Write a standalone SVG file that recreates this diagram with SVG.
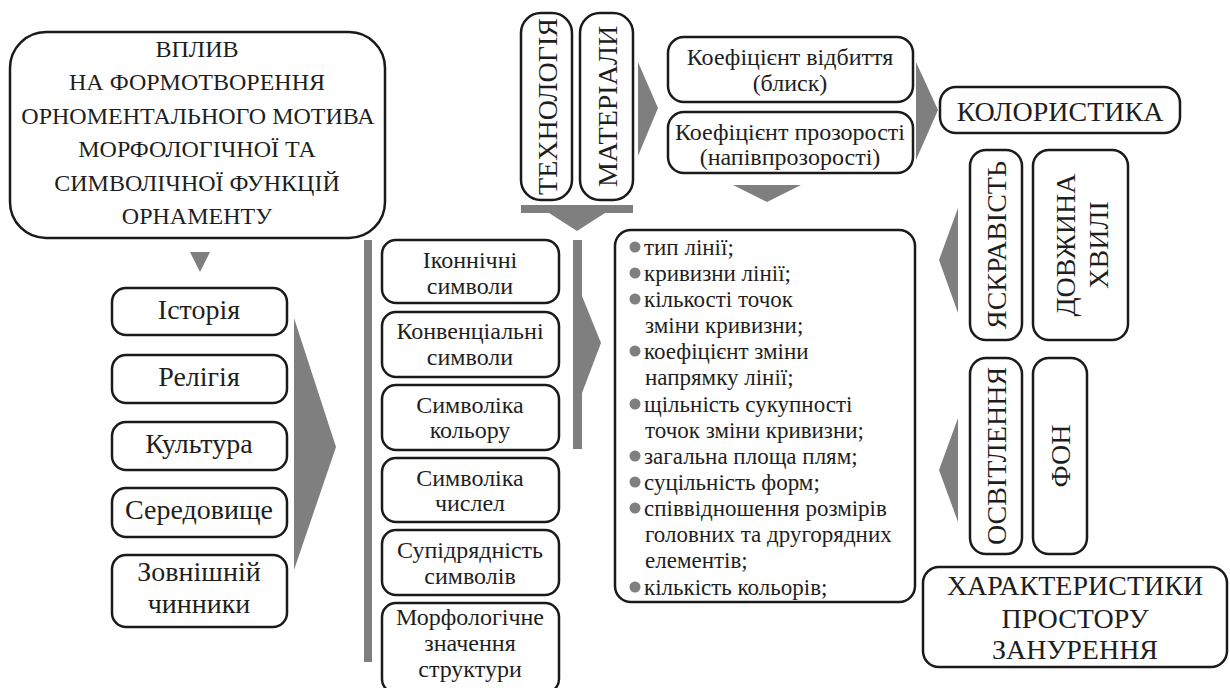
<svg xmlns="http://www.w3.org/2000/svg" width="1230" height="688" viewBox="0 0 1230 688" font-family="Liberation Serif, Times New Roman, serif">
<style>
.box{fill:#fff;stroke:#1a1a1a;stroke-width:2.5}
.g{fill:#7f7f7f}
.t{fill:#1e1e1e;text-anchor:middle}
.l{fill:#1e1e1e;font-size:23px}
</style>
<rect width="1230" height="688" fill="#ffffff"/>
<g id="connectors">
<polygon class="g" points="190,252 210,252 200,272"/>
<polygon class="g" points="294,318 336,447 294,570"/>
<rect class="g" x="364" y="240" width="8" height="422"/>
<rect class="g" x="573" y="240" width="9" height="209"/>
<polygon class="g" points="582,296 601,343 582,393"/>
<rect class="g" x="521" y="205" width="112" height="8"/>
<polygon class="g" points="549,213 605,213 577,231"/>
<polygon class="g" points="638,62 658,108 638,156"/>
<polygon class="g" points="733,185 801,185 767,202"/>
<polygon class="g" points="916,62 938,110 916,160"/>
<polygon class="g" points="958,208 939,260 958,313"/>
<polygon class="g" points="958,418 939,470 958,522"/>
</g>
<g id="main">
<rect class="box" x="10" y="32" width="375" height="206" rx="36"/>
<text class="t" font-family="Liberation Serif, serif" font-size="24" x="197" y="57">ВПЛИВ</text>
<text class="t" font-family="Liberation Serif, serif" font-size="24" x="197" y="90">НА ФОРМОТВОРЕННЯ</text>
<text class="t" font-family="Liberation Serif, serif" font-size="24" x="198" y="124">ОРНОМЕНТАЛЬНОГО МОТИВА</text>
<text class="t" font-family="Liberation Serif, serif" font-size="24" x="197" y="157">МОРФОЛОГІЧНОЇ ТА</text>
<text class="t" font-family="Liberation Serif, serif" font-size="24" x="197" y="191">СИМВОЛІЧНОЇ ФУНКЦІЙ</text>
<text class="t" font-family="Liberation Serif, serif" font-size="24" x="197" y="224">ОРНАМЕНТУ</text>
</g>
<g id="istoriia"><rect class="box" x="112" y="288" width="175" height="47" rx="14"/><text class="t" font-family="Liberation Serif, serif" font-size="28" x="199" y="319">Історія</text></g>
<g id="relihiia"><rect class="box" x="112" y="355" width="175" height="48" rx="14"/><text class="t" font-family="Liberation Serif, serif" font-size="28" x="199" y="386">Релігія</text></g>
<g id="kultura"><rect class="box" x="112" y="422" width="175" height="48" rx="14"/><text class="t" font-family="Liberation Serif, serif" font-size="28" x="199" y="453">Культура</text></g>
<g id="seredovyshche"><rect class="box" x="112" y="488" width="175" height="49" rx="14"/><text class="t" font-family="Liberation Serif, serif" font-size="28" x="199" y="519">Середовище</text></g>
<g id="zovnishni"><rect class="box" x="112" y="555" width="175" height="72" rx="14"/><text class="t" font-family="Liberation Serif, serif" font-size="28" x="199" y="581">Зовнішній</text><text class="t" font-family="Liberation Serif, serif" font-size="28" x="199" y="613">чинники</text></g>
<g id="ikonichni"><rect class="box" x="382" y="240" width="177" height="63" rx="14"/><text class="t" font-family="Liberation Serif, serif" font-size="24" x="470" y="268">Іконнічні</text><text class="t" font-family="Liberation Serif, serif" font-size="24" x="470" y="294">символи</text></g>
<g id="konventsialni"><rect class="box" x="382" y="312" width="177" height="65" rx="14"/><text class="t" font-family="Liberation Serif, serif" font-size="24" x="470" y="339">Конвенціальні</text><text class="t" font-family="Liberation Serif, serif" font-size="24" x="470" y="365">символи</text></g>
<g id="kolir"><rect class="box" x="382" y="385" width="177" height="65" rx="14"/><text class="t" font-family="Liberation Serif, serif" font-size="24" x="470" y="413">Символіка</text><text class="t" font-family="Liberation Serif, serif" font-size="24" x="470" y="438">кольору</text></g>
<g id="chysla"><rect class="box" x="382" y="458" width="177" height="64" rx="14"/><text class="t" font-family="Liberation Serif, serif" font-size="24" x="470" y="486">Символіка</text><text class="t" font-family="Liberation Serif, serif" font-size="24" x="470" y="511">числел</text></g>
<g id="supidriadnist"><rect class="box" x="382" y="530" width="177" height="65" rx="14"/><text class="t" font-family="Liberation Serif, serif" font-size="24" x="470" y="558">Супідрядність</text><text class="t" font-family="Liberation Serif, serif" font-size="24" x="470" y="584">символів</text></g>
<g id="morfolohichne"><rect class="box" x="382" y="603" width="177" height="90" rx="14"/><text class="t" font-family="Liberation Serif, serif" font-size="24" x="470" y="625">Морфологічне</text><text class="t" font-family="Liberation Serif, serif" font-size="24" x="470" y="651">значення</text><text class="t" font-family="Liberation Serif, serif" font-size="24" x="470" y="677">структури</text></g>
<g id="tekhnolohiia"><rect class="box" x="521" y="13" width="51" height="187" rx="20"/><text class="t" font-family="Liberation Serif, serif" font-size="28" transform="translate(546.5,106.5) rotate(-90)" x="0" y="10">ТЕХНОЛОГІЯ</text></g>
<g id="materialy"><rect class="box" x="580" y="13" width="53" height="187" rx="20"/><text class="t" font-family="Liberation Serif, serif" font-size="28" transform="translate(606.5,106.5) rotate(-90)" x="0" y="10">МАТЕРІАЛИ</text></g>
<g id="vidbyttia"><rect class="box" x="668" y="37" width="245" height="65" rx="16"/><text class="t" font-family="Liberation Serif, serif" font-size="24" x="790" y="65">Коефіцієнт відбиття</text><text class="t" font-family="Liberation Serif, serif" font-size="24" x="790" y="91">(блиск)</text></g>
<g id="prozorist"><rect class="box" x="668" y="112" width="245" height="61" rx="16"/><text class="t" font-family="Liberation Serif, serif" font-size="24" x="790" y="140">Коефіцієнт прозорості</text><text class="t" font-family="Liberation Serif, serif" font-size="24" x="790" y="165">(напівпрозорості)</text></g>
<g id="list">
<rect class="box" x="615" y="230" width="300" height="372" rx="16"/>
<g class="g"><circle cx="635" cy="247" r="5.5"/><circle cx="635" cy="273" r="5.5"/><circle cx="635" cy="299" r="5.5"/><circle cx="635" cy="351" r="5.5"/><circle cx="635" cy="404" r="5.5"/><circle cx="635" cy="456" r="5.5"/><circle cx="635" cy="482" r="5.5"/><circle cx="635" cy="508" r="5.5"/><circle cx="635" cy="587" r="5.5"/></g>
<text class="l" font-family="Liberation Serif, serif" x="644" y="255">тип лінії;</text>
<text class="l" font-family="Liberation Serif, serif" x="644" y="281">кривизни лінії;</text>
<text class="l" font-family="Liberation Serif, serif" x="644" y="307">кількості точок</text>
<text class="l" font-family="Liberation Serif, serif" x="645" y="333">зміни кривизни;</text>
<text class="l" font-family="Liberation Serif, serif" x="644" y="359">коефіцієнт зміни</text>
<text class="l" font-family="Liberation Serif, serif" x="645" y="385">напрямку лінії;</text>
<text class="l" font-family="Liberation Serif, serif" x="644" y="412">щільність сукупності</text>
<text class="l" font-family="Liberation Serif, serif" x="645" y="438">точок зміни кривизни;</text>
<text class="l" font-family="Liberation Serif, serif" x="644" y="464">загальна площа плям;</text>
<text class="l" font-family="Liberation Serif, serif" x="644" y="490">суцільність форм;</text>
<text class="l" font-family="Liberation Serif, serif" x="644" y="516">співвідношення розмірів</text>
<text class="l" font-family="Liberation Serif, serif" x="645" y="542">головних та другорядних</text>
<text class="l" font-family="Liberation Serif, serif" x="645" y="568">елементів;</text>
<text class="l" font-family="Liberation Serif, serif" x="644" y="595">кількість кольорів;</text>
</g>
<g id="kororystyka"><rect class="box" x="940" y="87" width="240" height="46" rx="16"/><text class="t" font-family="Liberation Serif, serif" font-size="28" x="1060" y="121">КОЛОРИСТИКА</text></g>
<g id="yaskravist"><rect class="box" x="970" y="150" width="52" height="190" rx="16"/><text class="t" font-family="Liberation Serif, serif" font-size="28" transform="translate(996,245) rotate(-90)" x="0" y="10">ЯСКРАВІСТЬ</text></g>
<g id="dovzhyna"><rect class="box" x="1033" y="150" width="95" height="190" rx="16"/><text class="t" font-family="Liberation Serif, serif" font-size="28" transform="translate(1080.5,245) rotate(-90)" x="0" y="-6">ДОВЖИНА</text><text class="t" font-family="Liberation Serif, serif" font-size="28" transform="translate(1080.5,245) rotate(-90)" x="0" y="27">ХВИЛІ</text></g>
<g id="osvitlennia"><rect class="box" x="970" y="358" width="52" height="196" rx="16"/><text class="t" font-family="Liberation Serif, serif" font-size="28" transform="translate(996,456) rotate(-90)" x="0" y="10">ОСВІТЛЕННЯ</text></g>
<g id="fon"><rect class="box" x="1033" y="358" width="54" height="196" rx="16"/><text class="t" font-family="Liberation Serif, serif" font-size="28" transform="translate(1060,456) rotate(-90)" x="0" y="10">ФОН</text></g>
<g id="kharakterystyky"><rect class="box" x="923" y="567" width="304" height="100" rx="16"/><text class="t" font-family="Liberation Serif, serif" font-size="28" x="1075" y="595">ХАРАКТЕРИСТИКИ</text><text class="t" font-family="Liberation Serif, serif" font-size="28" x="1075" y="628">ПРОСТОРУ</text><text class="t" font-family="Liberation Serif, serif" font-size="28" x="1075" y="659">ЗАНУРЕННЯ</text></g>
</svg>
